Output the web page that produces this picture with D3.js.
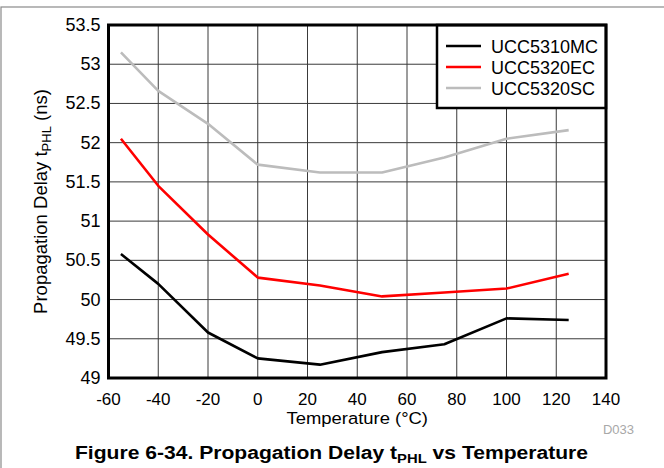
<!DOCTYPE html>
<html>
<head>
<meta charset="utf-8">
<script src="https://cdn.jsdelivr.net/npm/d3@7"></script>
<style>
  body { margin: 0; background: #fff; }
  text { font-family: "Liberation Sans", Arial, sans-serif; }
</style>
</head>
<body>
<div class="container"></div>
<script>
const width = 664, height = 468;
const margin = {left: 108.5, right: 58, top: 25, bottom: 90};

// data
const temps = [-55, -40, -20, 0, 25, 50, 75, 100, 125];
const ucc5310mc = [50.58, 50.20, 49.58, 49.25, 49.17, 49.33, 49.43, 49.76, 49.74];
const ucc5320ec = [52.05, 51.45, 50.83, 50.28, 50.18, 50.04, 50.09, 50.14, 50.33];
const ucc5320sc = [53.15, 52.66, 52.24, 51.72, 51.62, 51.62, 51.81, 52.05, 52.16];
const seriesNames = ["UCC5310MC", "UCC5320EC", "UCC5320SC"];
const seriesColors = ["#000000", "#ff0000", "#bcbcbc"];
const xTicks = [-60, -40, -20, 0, 20, 40, 60, 80, 100, 120, 140];
const yTicks = [49, 49.5, 50, 50.5, 51, 51.5, 52, 52.5, 53, 53.5];

const series = [ucc5310mc, ucc5320ec, ucc5320sc].map((vals, i) => ({
    name: seriesNames[i],
    color: seriesColors[i],
    values: vals.map((v, j) => ({t: temps[j], v: v}))
}));

const svg = d3.select(".container")
    .append("svg")
    .attr("width", width)
    .attr("height", height);

// outer figure border (only top/left visible)
svg.append("rect")
    .attr("x", 1).attr("y", 7)
    .attr("width", width + 10).attr("height", height + 10)
    .attr("fill", "none")
    .attr("stroke", "#8a8a8a")
    .attr("stroke-width", 1.2);

const x = d3.scaleLinear().domain([-60, 140]).range([margin.left, width - margin.right]);
const y = d3.scaleLinear().domain([49, 53.5]).range([height - margin.bottom, margin.top]);

// grid
svg.append("g")
    .selectAll("line")
    .data(xTicks.slice(1, -1))
    .enter()
    .append("line")
    .attr("x1", d => x(d)).attr("x2", d => x(d))
    .attr("y1", y(49)).attr("y2", y(53.5))
    .attr("stroke", "#3a3a3a")
    .attr("stroke-width", 1);

svg.append("g")
    .selectAll("line")
    .data(yTicks.slice(1, -1))
    .enter()
    .append("line")
    .attr("x1", x(-60)).attr("x2", x(140))
    .attr("y1", d => y(d)).attr("y2", d => y(d))
    .attr("stroke", "#3a3a3a")
    .attr("stroke-width", 1);

// series lines
const line = d3.line()
    .x(d => x(d.t))
    .y(d => y(d.v));

svg.append("g")
    .selectAll("path")
    .data(series.slice().reverse())
    .enter()
    .append("path")
    .attr("d", d => line(d.values))
    .attr("fill", "none")
    .attr("stroke", d => d.color)
    .attr("stroke-width", 2.6)
    .attr("stroke-linejoin", "round");

// legend
const lg = svg.append("g");
lg.append("rect")
    .attr("x", 437).attr("y", y(53.5))
    .attr("width", x(140) - 437).attr("height", 108 - y(53.5))
    .attr("fill", "#fff")
    .attr("stroke", "#000")
    .attr("stroke-width", 2.5);
series.forEach((s, i) => {
    const ly = 46 + i * 21;
    lg.append("line")
        .attr("x1", 446).attr("x2", 481)
        .attr("y1", ly).attr("y2", ly)
        .attr("stroke", s.color)
        .attr("stroke-width", 2.6);
    lg.append("text")
        .attr("x", 491).attr("y", ly + 6.5)
        .attr("font-size", 18)
        .text(s.name);
});

// plot frame
svg.append("rect")
    .attr("x", x(-60)).attr("y", y(53.5))
    .attr("width", x(140) - x(-60)).attr("height", y(49) - y(53.5))
    .attr("fill", "none")
    .attr("stroke", "#000")
    .attr("stroke-width", 3);

// tick labels
svg.append("g")
    .selectAll("text")
    .data(xTicks)
    .enter()
    .append("text")
    .attr("x", d => x(d))
    .attr("y", 404.5)
    .attr("text-anchor", "middle")
    .attr("font-size", 17)
    .text(d => d);

svg.append("g")
    .selectAll("text")
    .data(yTicks)
    .enter()
    .append("text")
    .attr("x", 100.5)
    .attr("y", d => y(d) + 6)
    .attr("text-anchor", "end")
    .attr("font-size", 18)
    .text(d => d);

// axis titles (the source font runs a little wider than Liberation Sans)
svg.append("text")
    .attr("transform", `translate(${(x(-60) + x(140)) / 2},424) scale(1.085,1)`)
    .attr("text-anchor", "middle")
    .attr("font-size", 17)
    .text("Temperature (°C)");

const yl = svg.append("text")
    .attr("transform", `translate(47,${(y(49) + y(53.5)) / 2}) rotate(-90)`)
    .attr("text-anchor", "middle")
    .attr("font-size", 18.5);
yl.append("tspan").text("Propagation Delay t");
yl.append("tspan").attr("font-size", 13).attr("dy", 4).text("PHL");
yl.append("tspan").attr("dy", -4).text(" (ns)");

svg.append("text")
    .attr("x", 634).attr("y", 434)
    .attr("text-anchor", "end")
    .attr("font-size", 13)
    .attr("fill", "#a8a8a8")
    .text("D033");

// title is wider in the original, so stretch it a bit horizontally
const title = svg.append("text")
    .attr("transform", "translate(331.5,459) scale(1.14,1)")
    .attr("text-anchor", "middle")
    .attr("font-size", 18.5)
    .attr("font-weight", "bold");
title.append("tspan").text("Figure 6-34. Propagation Delay t");
title.append("tspan").attr("font-size", 13).attr("dy", 4).text("PHL");
title.append("tspan").attr("dy", -4).text(" vs Temperature");
</script>
</body>
</html>
